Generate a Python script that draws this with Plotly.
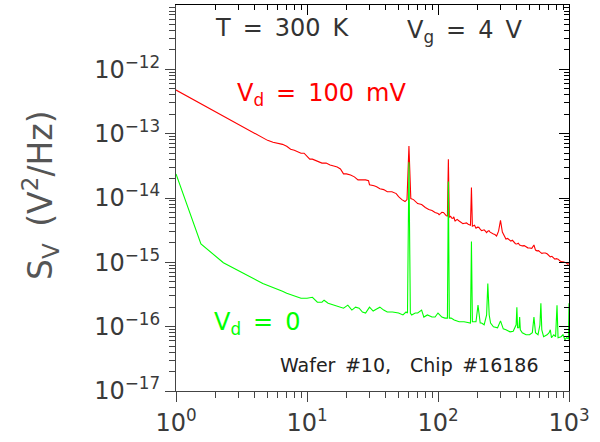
import plotly.graph_objects as go

# ---- data ----
red_f = [1, 4, 4.5, 5, 5.5, 6, 6.5, 7, 7.5, 8,
         8.5, 9, 9.5, 10, 10.5, 11, 12, 13, 14, 15,
         16, 17, 18, 19, 20, 21.5, 23, 24.5, 26, 28,
         29.5, 30, 32.5, 34, 36, 38.5, 41, 44.5, 48, 50,
         53, 56, 58, 60, 62, 65, 70, 75, 80, 85,
         90, 95, 100, 102, 105, 107, 110, 112, 115, 118,
         120, 122, 125, 127, 130, 132, 135, 137, 140, 145,
         150, 155, 160, 165, 170, 177, 180, 183, 190, 195,
         200, 205, 210, 215, 220, 225, 230, 235, 240, 245,
         250, 258, 265, 272, 280, 290, 300, 310, 330, 340,
         350, 360, 370, 380, 390, 400, 410, 420, 430, 440,
         455, 470, 485, 500, 520, 540, 555, 570, 585, 600,
         620, 640, 660, 680, 700, 720, 740, 760, 780, 800,
         825, 850, 875, 900, 925, 950, 975, 1000]
red_s = [4.76e-13, 1.01e-13, 8.75e-14, 7.87e-14, 7.33e-14, 7.08e-14, 6.82e-14, 6.37e-14, 5.73e-14, 5.52e-14,
         5.15e-14, 4.97e-14, 4.97e-14, 4.47e-14, 4.02e-14, 4.02e-14, 3.75e-14, 3.49e-14, 3.49e-14, 3.25e-14,
         3.14e-14, 3.03e-14, 2.83e-14, 2.37e-14, 2.37e-14, 2.28e-14, 2.13e-14, 1.91e-14, 1.91e-14, 1.91e-14,
         1.85e-14, 1.61e-14, 1.55e-14, 1.50e-14, 1.39e-14, 1.35e-14, 1.25e-14, 1.25e-14, 1.17e-14, 1.05e-14,
         9.44e-15, 8.81e-15, 9.44e-15, 6.4e-14, 9.8e-15, 9.44e-15, 8.2e-15, 7.92e-15, 7.13e-15, 6.64e-15,
         6.41e-15, 5.97e-15, 5.77e-15, 5.5e-15, 5.77e-15, 6.0e-15, 5.97e-15, 5.6e-15, 5.37e-15, 5.19e-15,
         4.0e-14, 5.0e-15, 5.19e-15, 4.9e-15, 4.83e-15, 5.1e-15, 4.35e-15, 4.5e-15, 4.66e-15, 4.4e-15,
         4.2e-15, 4.0e-15, 4.05e-15, 4.1e-15, 3.91e-15, 3.77e-15, 1.45e-14, 3.64e-15, 3.77e-15, 3.4e-15,
         3.52e-15, 3.5e-15, 3.27e-15, 3.1e-15, 3.16e-15, 3.2e-15, 3.05e-15, 2.9e-15, 3.05e-15, 3.1e-15,
         2.95e-15, 2.8e-15, 2.75e-15, 2.7e-15, 2.56e-15, 3.05e-15, 4.5e-15, 2.95e-15, 2.30e-15, 2.35e-15,
         2.2e-15, 2.14e-15, 2.2e-15, 2.07e-15, 1.95e-15, 1.93e-15, 1.98e-15, 1.86e-15, 1.8e-15, 1.80e-15,
         1.82e-15, 1.73e-15, 1.68e-15, 1.67e-15, 1.65e-15, 1.86e-15, 1.55e-15, 1.51e-15, 1.52e-15, 1.45e-15,
         1.38e-15, 1.40e-15, 1.40e-15, 1.36e-15, 1.30e-15, 1.22e-15, 1.24e-15, 1.18e-15, 1.12e-15, 1.14e-15,
         1.12e-15, 1.06e-15, 1.02e-15, 1.02e-15, 1.0e-15, 9.87e-16, 9.4e-16, 9.53e-16]

green_f = [1, 1.55, 2.3, 3.5, 4.6, 6.5, 7, 9, 10, 11,
           12, 13, 13.5, 14.5, 16, 17.5, 19, 20.5, 22, 23.5,
           25, 26.5, 28, 30, 32, 34, 36, 38.5, 41, 45,
           50, 54, 57, 58.5, 60, 61.5, 63, 67, 70, 75,
           78, 83, 90, 95, 100, 107, 113, 118, 120, 122,
           126, 133, 145, 158, 170, 177, 180, 183, 192, 195,
           202, 210, 215, 225, 235, 240, 246, 252, 265, 285,
           300, 315, 330, 355, 375, 395, 400, 405, 415, 420,
           425, 440, 470, 500, 525, 540, 555, 580, 600, 610,
           620, 640, 680, 705, 720, 735, 765, 790, 810, 825,
           870, 900, 930, 960, 990, 1000]
green_s = [2.37e-14, 1.93e-15, 9.87e-16, 6.22e-16, 4.70e-16, 3.54e-16, 3.30e-16, 2.77e-16, 2.77e-16, 2.86e-16,
           2.40e-16, 2.40e-16, 2.58e-16, 2.32e-16, 2.16e-16, 2.01e-16, 1.94e-16, 2.16e-16, 1.81e-16, 2.01e-16,
           1.94e-16, 1.69e-16, 1.63e-16, 2.01e-16, 1.75e-16, 1.88e-16, 2.01e-16, 1.81e-16, 1.69e-16, 1.69e-16,
           1.63e-16, 1.52e-16, 1.69e-16, 1.63e-16, 3.6e-14, 1.63e-16, 1.52e-16, 1.63e-16, 1.63e-16, 1.81e-16,
           1.41e-16, 1.52e-16, 1.41e-16, 1.41e-16, 1.63e-16, 1.41e-16, 1.36e-16, 1.36e-16, 1.8e-14, 1.36e-16,
           1.36e-16, 1.27e-16, 1.19e-16, 1.19e-16, 1.14e-16, 1.14e-16, 2.1e-15, 1.19e-16, 1.19e-16, 1.19e-16,
           2.16e-16, 1.14e-16, 1.14e-16, 1.07e-16, 1.52e-16, 4.70e-16, 1.52e-16, 1.14e-16, 9.94e-17, 9.6e-17,
           1.23e-16, 9.25e-17, 8.93e-17, 8.32e-17, 8.5e-17, 1.07e-16, 2.01e-16, 9.6e-17, 9.6e-17, 1.41e-16,
           8.93e-17, 8.04e-17, 7.48e-17, 7.48e-17, 8.04e-17, 1.41e-16, 8.04e-17, 7.48e-17, 1.07e-16, 2.32e-16,
           8.93e-17, 6.98e-17, 7.48e-17, 8.04e-17, 8.93e-17, 6.73e-17, 7.48e-17, 6.98e-17, 2.16e-16, 6.73e-17,
           6.98e-17, 7.48e-17, 6.28e-17, 6.73e-17, 6.5e-17, 2.32e-16]

x_tickvals = [1, 10, 100, 1000]
x_ticktext = ["10<sup>0</sup>", "10<sup>1</sup>", "10<sup>2</sup>", "10<sup>3</sup>"]
y_tickvals = [1e-17, 1e-16, 1e-15, 1e-14, 1e-13, 1e-12]
y_ticktext = ["10<sup>\u221217</sup>", "10<sup>\u221216</sup>", "10<sup>\u221215</sup>",
              "10<sup>\u221214</sup>", "10<sup>\u221213</sup>", "10<sup>\u221212</sup>"]

x_minor = [k * 10 ** d for d in range(0, 3) for k in range(2, 10)]
y_minor = [k * 10.0 ** d for d in range(-17, -11) for k in range(2, 10)]

FONT = "DejaVu Sans"
AX = "#444444"
SP = "\u2002"  # en space: the reference font is widely spaced

fig = go.Figure()
fig.add_trace(go.Scatter(x=red_f, y=red_s, mode="lines",
                         line=dict(color="#ff0000", width=1.1),
                         xaxis="x", yaxis="y", hoverinfo="skip", showlegend=False))
fig.add_trace(go.Scatter(x=green_f, y=green_s, mode="lines",
                         line=dict(color="#00ff00", width=1.1),
                         xaxis="x2", yaxis="y2", hoverinfo="skip", showlegend=False))

xr = [0, 3]
yr = [-17, -11]

fig.update_layout(
    width=600, height=442,
    margin=dict(l=176, r=31, t=5, b=45),
    paper_bgcolor="white", plot_bgcolor="white",
    showlegend=False,
    xaxis=dict(type="log", range=xr, showgrid=False, zeroline=False,
               tickmode="array", tickvals=x_tickvals, ticktext=x_ticktext,
               ticks="outside", ticklen=10, tickwidth=1, tickcolor=AX,
               showline=True, linecolor=AX, linewidth=1,
               tickfont=dict(family=FONT, size=24, color="#3a3a3a"),
               minor=dict(tickmode="array", tickvals=x_minor, ticks="outside",
                          ticklen=6, tickwidth=1, tickcolor=AX, showgrid=False)),
    yaxis=dict(type="log", range=yr, showgrid=False, zeroline=False,
               tickmode="array", tickvals=y_tickvals, ticktext=y_ticktext,
               ticks="outside", ticklen=10, tickwidth=1, tickcolor=AX,
               showline=True, linecolor=AX, linewidth=1,
               tickfont=dict(family=FONT, size=24, color="#3a3a3a"),
               minor=dict(tickmode="array", tickvals=y_minor, ticks="outside",
                          ticklen=6, tickwidth=1, tickcolor=AX, showgrid=False)),
    xaxis2=dict(type="log", range=xr, overlaying="x", side="top", anchor="y2",
                showgrid=False, zeroline=False, showticklabels=False,
                tickmode="array", tickvals=x_tickvals,
                ticks="inside", ticklen=10, tickwidth=1, tickcolor="black",
                showline=True, linecolor="black", linewidth=1,
                minor=dict(tickmode="array", tickvals=x_minor, ticks="inside",
                           ticklen=5, tickwidth=1, tickcolor="black", showgrid=False)),
    yaxis2=dict(type="log", range=yr, overlaying="y", side="right", anchor="x2",
                showgrid=False, zeroline=False, showticklabels=False,
                tickmode="array", tickvals=y_tickvals,
                ticks="inside", ticklen=10, tickwidth=1, tickcolor="black",
                showline=True, linecolor="black", linewidth=1,
                minor=dict(tickmode="array", tickvals=y_minor, ticks="inside",
                           ticklen=5, tickwidth=1, tickcolor="black", showgrid=False)),
)

def ann(text, x, y, color, size, xanchor="left", yanchor="middle", angle=0):
    fig.add_annotation(text=text, x=x, y=y, xref="paper", yref="paper",
                       xanchor=xanchor, yanchor=yanchor, showarrow=False,
                       textangle=angle,
                       font=dict(family=FONT, size=size, color=color))

ann(f"T{SP}={SP}300{SP}K", (213 - 176) / 393, (397 - 28) / 392, "#333333", 24)
ann(f"V<sub>g</sub>{SP}={SP}4{SP}V", (405 - 176) / 393, (397 - 32) / 392, "#333333", 24)
ann(f"V<sub>d</sub>{SP}={SP}100{SP}mV", (235 - 176) / 393, (397 - 96) / 392, "#ff0000", 24)
ann(f"V<sub>d</sub>{SP}={SP}0", (212 - 176) / 393, (397 - 328) / 392, "#00ff00", 24)
ann(f"Wafer{SP}#10,{SP}{SP}Chip{SP}#16186", (278 - 176) / 393, (397 - 371) / 392, "#222222", 19)
ann(f"S<sub>V</sub>{SP}(V<sup>2</sup>/Hz)", (40 - 176) / 393, (397 - 198) / 392,
    "#555555", 33, xanchor="center", angle=-90)

fig.write_html("out.html")
